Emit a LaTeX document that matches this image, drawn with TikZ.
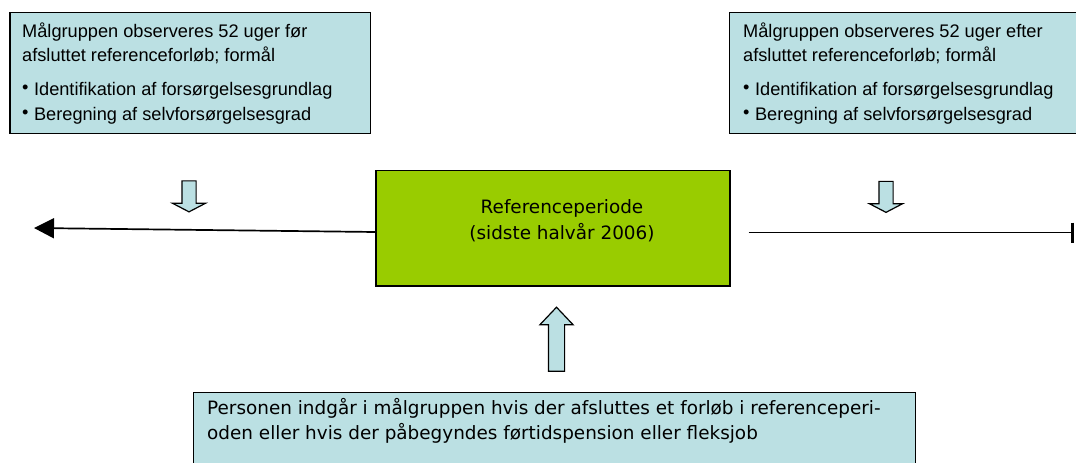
\documentclass[tikz,border=0pt]{standalone}
\usepackage{fontspec}
\setmainfont{Liberation Sans}
\newfontfamily\periodfont{DejaVu Sans}
\usetikzlibrary{arrows.meta,shapes.arrows}

\definecolor{boxBlue}{HTML}{BBE0E3}
\definecolor{periodGreen}{HTML}{99CC00}

\tikzset{
  infoBox/.style={draw, line width=1.3pt, fill=boxBlue, inner sep=0pt, anchor=north west},
  infoText/.style={anchor=base west, align=left, inner sep=0pt, font=\fontsize{18.2}{23.5}\selectfont},
  periodText/.style={anchor=base, align=center, inner sep=0pt, font=\periodfont\fontsize{18.4}{26}\selectfont},
  blockArrow/.style={single arrow, draw, line width=1.2pt, fill=boxBlue, inner sep=6.5pt,
    single arrow head extend=9.5pt, minimum height=31pt}
}
\newcommand{\bulletItem}{\raisebox{1.8pt}{\textbullet}\hspace{5.5pt}}

\begin{document}
\begin{tikzpicture}[x=1pt,y=-1pt]
    \useasboundingbox (0,0) rectangle (1076,463);
    \clip (0,0) rectangle (1076,463);

    % observation before and after the period
    \node[infoBox, minimum width=360.7pt, minimum height=121pt] (beforeBox) at (9.3,12) {};
    \node[infoText] (beforeText) at (22,120.7)
      {Målgruppen observeres 52 uger før\\afsluttet referenceforløb; formål\\[10.5pt]
       \bulletItem Identifikation af forsørgelsesgrundlag\\[2.2pt]
       \bulletItem Beregning af selvforsørgelsesgrad};

    \node[infoBox, minimum width=400pt, minimum height=121pt] (afterBox) at (729,12) {};
    \node[infoText] (afterText) at (743,120.7)
      {Målgruppen observeres 52 uger efter\\afsluttet referenceforløb; formål\\[10.5pt]
       \bulletItem Identifikation af forsørgelsesgrundlag\\[2.2pt]
       \bulletItem Beregning af selvforsørgelsesgrad};

    \node[blockArrow, shape border rotate=270, single arrow tip angle=125] (beforeArrow) at (189,194.5) {};
    \node[blockArrow, shape border rotate=270, single arrow tip angle=125] (afterArrow) at (886,195) {};

    % the reference period
    \node[draw, line width=1.3pt, fill=periodGreen, minimum width=354pt, minimum height=115.3pt] (refPeriod) at (553,228.3) {};
    \node[periodText] (refPeriodText) at (562,239) {Referenceperiode\\(sidste halvår 2006)};

    \coordinate (pastEnd) at (34,228);
    \coordinate (futureEnd) at (1074,232.5);
    \draw[line width=1.7pt, -{Triangle[length=20pt,width=20pt]}] ([yshift=-3.7pt]refPeriod.west) -- (pastEnd);
    \draw[line width=1.7pt, -{Bar[width=20pt,line width=3pt]}] ([xshift=18pt,yshift=-4.2pt]refPeriod.east) -- (futureEnd);

    % who enters the target group
    \node[infoBox, minimum width=722.3pt, minimum height=100pt] (targetBox) at (192.7,391.7) {};
    \node[periodText, anchor=base west, align=left, font=\periodfont\fontsize{18.4}{25}\selectfont] (targetText) at (207,439)
      {Personen indgår i målgruppen hvis der afsluttes et forløb i referenceperi-\\oden eller hvis der påbegyndes førtidspension eller fleksjob};

    \node[blockArrow, shape border rotate=90, single arrow tip angle=87, minimum height=64pt, inner sep=7.5pt, single arrow head extend=8.5pt] (targetArrow) at (556.5,343.5) {};
\end{tikzpicture}
\end{document}
